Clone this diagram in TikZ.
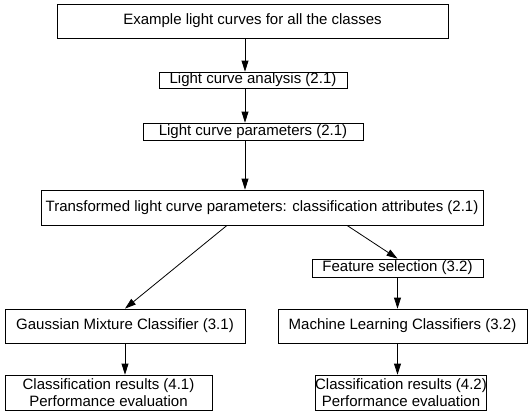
\documentclass[tikz,border=0pt]{standalone}
\usepackage{fontspec}
\setmainfont{Liberation Sans}
\usetikzlibrary{arrows.meta}

\begin{document}
\begin{tikzpicture}[x=1pt,y=-1pt]
    \useasboundingbox (0,0) rectangle (531,416);

    \begin{scope}[every node/.style={rectangle,draw,line width=0.8pt,inner sep=0pt,font=\fontsize{15}{17}\selectfont,align=center}]
        \node[minimum width=391pt,minimum height=34pt] (ex) at (252.5,21) {Example light curves for all the classes};
        \node[minimum width=188pt,minimum height=16pt] (lca) at (253,80) {Light curve analysis (2.1)};
        \node[minimum width=220pt,minimum height=17pt] (lcp) at (253,131.5) {Light curve parameters (2.1)};
        \node[minimum width=442pt,minimum height=35pt] (tlcp) at (262,207.5) {Transformed light curve parameters: classification attributes (2.1)};
        \node[minimum width=171pt,minimum height=18pt] (fs) at (397.5,268) {Feature selection (3.2)};
        \node[minimum width=240pt,minimum height=34pt] (gmc) at (125,326) {Gaussian Mixture Classifier (3.1)};
        \node[minimum width=249pt,minimum height=34pt] (mlc) at (402.5,326) {Machine Learning Classifiers (3.2)};
        \node[minimum width=207pt,minimum height=35pt] (res1) at (108.5,392.5) {Classification results (4.1)\\Performance evaluation};
        \node[minimum width=168pt,minimum height=35pt] (res2) at (401,392.5) {Classification results (4.2)\\Performance evaluation};
    \end{scope}

    \coordinate (spine) at (245,0);
    \begin{scope}[every path/.style={-{Triangle[length=11pt,width=7pt]},line width=0.8pt}]
        \path (ex.south -| spine) edge (lca.north -| spine);
        \path (lca.south -| spine) edge (lcp.north -| spine);
        \path (lcp.south -| spine) edge (tlcp.north -| spine);
        \path ([xshift=-35pt]tlcp.south) edge (gmc.north);
        \path ([xshift=85pt]tlcp.south) edge (fs.north);
        \path (fs.south) edge (fs.south |- mlc.north);
        \path (gmc.south) edge (gmc.south |- res1.north);
        \path (mlc.south -| fs.south) edge (fs.south |- res2.north);
    \end{scope}
\end{tikzpicture}
\end{document}
